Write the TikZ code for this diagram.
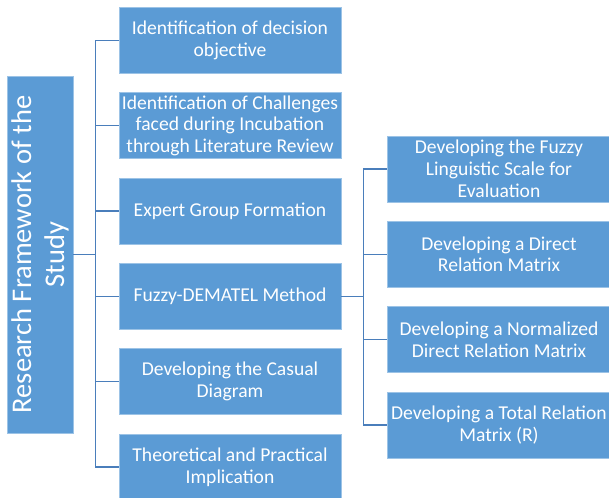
\documentclass[tikz,border=0pt]{standalone}
\usepackage{fontspec}
\setmainfont{Carlito}
\definecolor{boxblue}{HTML}{5B9BD5}
\definecolor{boxedge}{HTML}{9CC3E6}
\definecolor{linkblue}{HTML}{4A7EBB}
\tikzset{
	stepbox/.style={fill=boxblue, draw=boxedge, line width=0.8pt, text=white, align=center,
		minimum width=222, minimum height=66, inner sep=1pt, font=\fontsize{19.6}{21.8}\selectfont},
	subbox/.style={stepbox, minimum width=224},
	link/.style={draw=linkblue, line width=1.3pt}
}
\begin{document}
\begin{tikzpicture}[x=1pt, y=-1pt]
			%%%%% FRAME %%%%%
			\useasboundingbox (0, 0) rectangle (609, 497);
			
			\node[stepbox, minimum width=66, minimum height=357] (study) at (40, 254.5) {};
			\node[rotate=90, text=white, align=center, font=\fontsize{28.5}{33}\selectfont] at (study.center) {Research Framework of the\\Study};
			
			%%%%% MAIN STEPS %%%%%
			\node[stepbox] (objective) at (230, 40.5) {Identification of decision\\objective};
			\node[stepbox] (challenges) at (230, 125.8) {Identification of Challenges\\faced during Incubation\\through Literature Review};
			\node[stepbox] (experts) at (230, 211.1) {Expert Group Formation};
			\node[stepbox] (dematel) at (230, 296.4) {Fuzzy-DEMATEL Method};
			\node[stepbox] (causal) at (230, 381.7) {Developing the Casual\\Diagram};
			\node[stepbox] (implication) at (230, 467) {Theoretical and Practical\\Implication};
			
			%%%%% DEMATEL STEPS %%%%%
			\node[subbox] (scale) at (499, 169) {Developing the Fuzzy\\Linguistic Scale for\\Evaluation};
			\node[subbox] (direct) at (499, 254.3) {Developing a Direct\\Relation Matrix};
			\node[subbox] (normalized) at (499, 339.6) {Developing a Normalized\\Direct Relation Matrix};
			\node[subbox] (total) at (499, 424.9) {Developing a Total Relation\\Matrix (R)};
			
			%%%%% LINKS %%%%%
			\draw[link] (study.east) -- ++(23, 0);
			\draw[link] (objective.west) -- ++(-23, 0) |- (implication.west);
			\foreach \n in {challenges, experts, dematel, causal}
				\draw[link] (\n.west) -- ++(-23, 0);
			
			\draw[link] (dematel.east) -- ++(23, 0);
			\draw[link] (scale.west) -- ++(-23, 0) |- (total.west);
			\foreach \n in {direct, normalized}
				\draw[link] (\n.west) -- ++(-23, 0);
			%%%%% END %%%%%
		\end{tikzpicture}
\end{document}
